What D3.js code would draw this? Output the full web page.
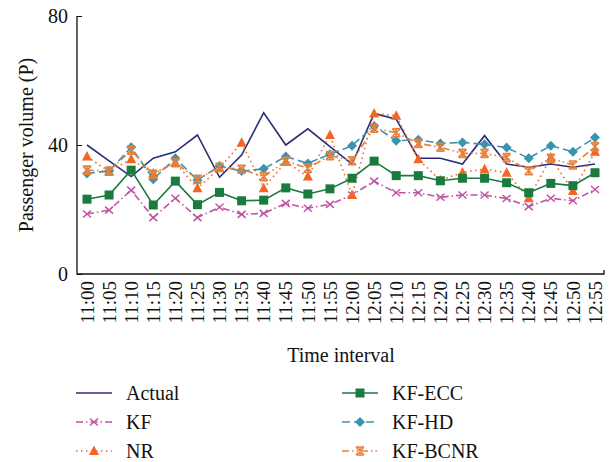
<!DOCTYPE html>
<html lang="en">
<head>
<meta charset="UTF-8">
<title>Passenger volume</title>
<script src="https://cdnjs.cloudflare.com/ajax/libs/d3/7.8.5/d3.min.js"></script>
<style>
    body { margin: 0; background: #fff; }
    svg text { font-family: "Liberation Serif", "DejaVu Serif", serif; fill: #111; }
</style>
</head>
<body>
<div id="chart"></div>
<script>
    // time slots on the x axis
    const times = ['11:00','11:05','11:10','11:15','11:20','11:25','11:30','11:35','11:40','11:45','11:50','11:55',
                   '12:00','12:05','12:10','12:15','12:20','12:25','12:30','12:35','12:40','12:45','12:50','12:55'];

    const yTicks = [0, 40, 80];

    // values
    const actual = [40.0, 35.1, 30.2, 35.9, 37.9, 43.1, 30.0, 36.9, 50.0, 40.0, 45.0, 39.5,
                    34.1, 49.8, 48.0, 35.9, 35.9, 34.1, 42.9, 34.1, 33.1, 34.1, 33.1, 34.1];
    const kf     = [18.6, 19.8, 26.0, 17.5, 23.5, 17.5, 20.7, 18.5, 18.8, 21.9, 20.4, 21.6,
                    24.5, 28.8, 25.2, 25.2, 23.8, 24.5, 24.5, 23.4, 20.9, 23.5, 22.7, 26.2];
    const nr     = [36.4, 31.8, 35.6, 31.2, 34.5, 26.6, 32.8, 40.7, 26.6, 34.8, 30.2, 43.1,
                    24.5, 49.8, 49.1, 35.6, 29.0, 31.5, 32.5, 31.4, 23.5, 36.1, 25.7, 37.9];
    const kfEcc  = [23.2, 24.5, 32.2, 21.4, 28.8, 21.5, 25.3, 22.7, 22.9, 26.7, 24.8, 26.4,
                    29.7, 35.0, 30.5, 30.5, 28.9, 29.7, 29.7, 28.3, 25.2, 28.1, 27.4, 31.4];
    const kfHd   = [31.2, 31.9, 39.3, 29.4, 35.9, 29.1, 33.5, 31.9, 32.6, 36.4, 34.3, 37.1,
                    39.8, 45.9, 41.3, 41.6, 40.5, 40.8, 40.2, 39.2, 35.9, 39.8, 37.9, 42.3];
    const kfBcnr = [32.2, 31.9, 38.4, 30.9, 34.5, 29.4, 33.1, 32.5, 30.2, 35.0, 32.8, 36.7,
                    35.1, 45.2, 43.8, 40.5, 39.3, 37.4, 37.4, 36.1, 32.0, 35.9, 33.8, 39.5];

    const seriesNames = ['Actual', 'KF', 'NR', 'KF-ECC', 'KF-HD', 'KF-BCNR'];

    const width = 614, height = 462;

    const series = [
        { name: 'Actual',  values: actual, color: '#2b2c78', dash: null,            marker: 'none' },
        { name: 'KF',      values: kf,     color: '#c152a4', dash: '7,3,1.5,3',     marker: 'cross' },
        { name: 'NR',      values: nr,     color: '#f26522', dash: '1.5,3.5',       marker: 'triangle' },
        { name: 'KF-ECC',  values: kfEcc,  color: '#1b7b3e', dash: null,            marker: 'square' },
        { name: 'KF-HD',   values: kfHd,   color: '#3a94ad', dash: '8,4',           marker: 'diamond' },
        { name: 'KF-BCNR', values: kfBcnr, color: '#e3823e', dash: '7,3,1.5,3,1.5,3', marker: 'star' }
    ];

    const x = d3.scalePoint().domain(times).range([87, 595]);
    const y = d3.scaleLinear().domain([0, 80]).range([274, 16]);

    const svg = d3.select('#chart').append('svg')
        .attr('width', width)
        .attr('height', height);

    // axes
    const yAxis = svg.append('g')
        .attr('transform', 'translate(77,0)')
        .call(d3.axisLeft(y).tickValues(yTicks).tickSize(-5).tickSizeOuter(0).tickPadding(9));
    yAxis.select('.domain').remove();
    yAxis.selectAll('line').attr('stroke', '#111');
    yAxis.selectAll('text').style('font-size', '20px').style('font-family', '"Liberation Serif", serif').attr('fill', '#111');

    svg.append('path')
        .attr('d', 'M77,' + y(80) + 'V' + y(0) + 'H604V' + (y(0) - 4))
        .attr('fill', 'none')
        .attr('stroke', '#111')
        .attr('stroke-width', 1.3);

    svg.append('g').selectAll('text')
        .data(times)
        .join('text')
        .attr('transform', d => 'translate(' + x(d) + ',281) rotate(-90)')
        .attr('text-anchor', 'end')
        .attr('dy', '0.35em')
        .style('font-size', '19px')
        .text(d => d);

    svg.append('text')
        .attr('x', 341).attr('y', 362)
        .attr('text-anchor', 'middle')
        .style('font-size', '20px')
        .text('Time interval');

    svg.append('text')
        .attr('transform', 'translate(33,145) rotate(-90)')
        .attr('text-anchor', 'middle')
        .style('font-size', '20px')
        .text('Passenger volume (P)');

    // markers
    const drawMarker = (g, type, color) => {
        if (type === 'square') {
            g.append('rect').attr('x', -4.5).attr('y', -4.5).attr('width', 9).attr('height', 9).attr('fill', color);
        } else if (type === 'triangle') {
            g.append('path').attr('d', 'M0,-5.5L5,4L-5,4Z').attr('fill', color);
        } else if (type === 'diamond') {
            g.append('path').attr('d', 'M0,-5L5,0L0,5L-5,0Z').attr('fill', color);
        } else if (type === 'cross') {
            g.append('path').attr('d', 'M-4,-3.5L4,3.5M-4,3.5L4,-3.5').attr('stroke', color).attr('stroke-width', 1.5);
        } else if (type === 'star') {
            g.append('path').attr('d', 'M-4,-4L4,4M-4,4L4,-4M-4,-4H4M-4,4H4M0,-4V4')
                .attr('stroke', color).attr('stroke-width', 1.6);
        }
    };

    const line = d3.line()
        .x((d, i) => x(times[i]))
        .y(d => y(d));

    series.forEach(s => {
        const g = svg.append('g');
        g.append('path')
            .datum(s.values)
            .attr('d', line)
            .attr('fill', 'none')
            .attr('stroke', s.color)
            .attr('stroke-width', 1.6)
            .attr('stroke-dasharray', s.dash);
        if (s.marker !== 'none') {
            g.selectAll('g.pt')
                .data(s.values)
                .join('g')
                .attr('class', 'pt')
                .attr('transform', (d, i) => 'translate(' + x(times[i]) + ',' + y(d) + ')')
                .each(function() { drawMarker(d3.select(this), s.marker, s.color); });
        }
    });

    // legend
    const legendPos = [
        { lx: 76,  ty: 400 }, { lx: 76,  ty: 429 }, { lx: 76,  ty: 458 },
        { lx: 342, ty: 400 }, { lx: 342, ty: 429 }, { lx: 342, ty: 458 }
    ];
    series.forEach((s, i) => {
        const p = legendPos[i];
        const g = svg.append('g').attr('transform', 'translate(' + p.lx + ',' + (p.ty - 7) + ')');
        g.append('line')
            .attr('x1', 0).attr('x2', 36)
            .attr('stroke', s.color)
            .attr('stroke-width', 1.6)
            .attr('stroke-dasharray', s.dash);
        if (s.marker !== 'none') {
            drawMarker(g.append('g').attr('transform', 'translate(18,0)'), s.marker, s.color);
        }
        svg.append('text')
            .attr('x', p.lx + 50).attr('y', p.ty)
            .style('font-size', '20px')
            .text(seriesNames[i]);
    });
</script>
</body>
</html>
